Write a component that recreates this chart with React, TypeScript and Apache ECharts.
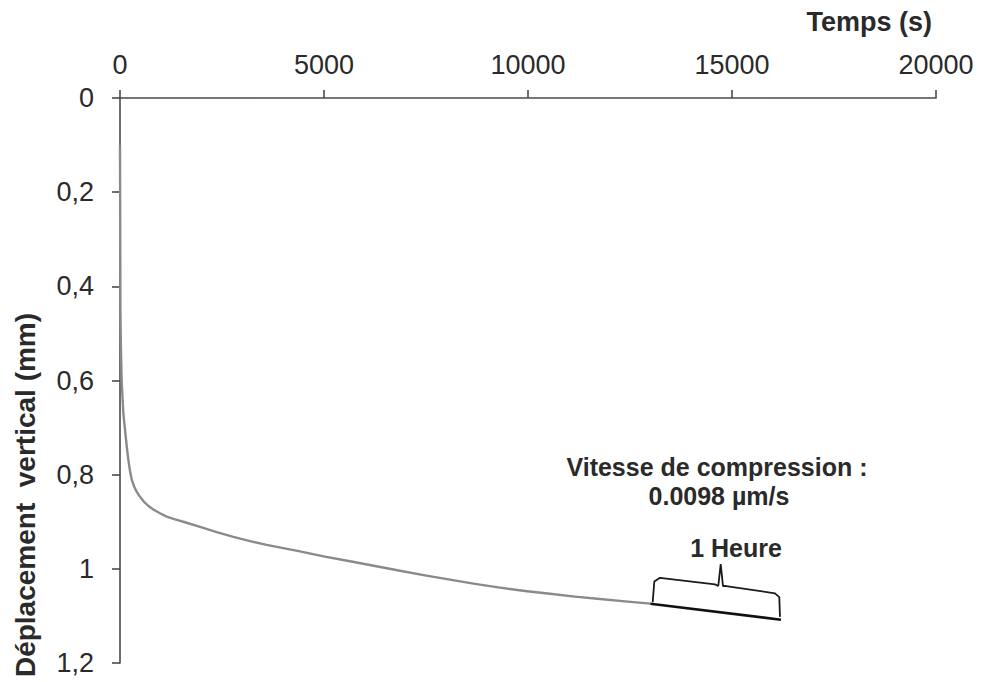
import React, { useEffect, useRef } from 'react';
import * as echarts from 'echarts';

// Axis ticks
const xTicks = [0, 5000, 10000, 15000, 20000];
const yTicks = [0, 0.2, 0.4, 0.6, 0.8, 1, 1.2];

// Measured creep curve (time in s, vertical displacement in mm)
const timeS = [0, 10, 20, 40, 82, 123, 165, 204, 245, 286, 345, 408, 490, 572, 690, 817, 980, 1144, 1350, 1552, 1961, 2370, 2778, 3186, 3595, 4000, 4412, 5020, 5637, 6250, 6863, 7475, 8088, 8700, 9314, 9925, 10539, 11150, 11765, 12380, 13000];
const displacementMm = [0.1, 0.45, 0.52, 0.6, 0.67, 0.705, 0.74, 0.768, 0.792, 0.81, 0.825, 0.836, 0.847, 0.856, 0.866, 0.874, 0.882, 0.889, 0.895, 0.9, 0.911, 0.922, 0.932, 0.941, 0.949, 0.956, 0.963, 0.974, 0.984, 0.994, 1.004, 1.014, 1.023, 1.032, 1.04, 1.047, 1.053, 1.059, 1.064, 1.069, 1.074];

// Last hour linear fit
const fitTimeS = [13000, 16200];
const fitDisplacementMm = [1.074, 1.108];

// Brace annotation over the last hour
const braceTimeS = [13056, 13096, 13235, 14583, 14664, 14723, 14779, 14853, 16054, 16159, 16176];
const braceDisplacementMm = [1.071, 1.027, 1.019, 1.033, 1.0365, 0.99, 1.0365, 1.0365, 1.052, 1.06, 1.102];

const xName = 'Temps (s)';
const yName = 'Déplacement  vertical (mm)';
const annotSpeed = 'Vitesse de compression :';
const annotValue = '0.0098 µm/s';
const annotHour = '1 Heure';

const FONT = '"Liberation Sans", Arial, sans-serif';
const AXIS_COLOR = '#4a4a4a';
const TEXT_COLOR = '#2a2a2a';

export default function App() {
  const ref = useRef<HTMLDivElement>(null);

  useEffect(() => {
    if (!ref.current) return;
    const chart = echarts.init(ref.current, null, { renderer: 'svg' });
    const axisLine = { show: true, lineStyle: { color: AXIS_COLOR, width: 1.6 } };
    const axisTick = { show: true, inside: false, length: 8, lineStyle: { color: AXIS_COLOR, width: 1.6 } };
    chart.setOption({
      animation: false,
      backgroundColor: '#ffffff',
      textStyle: { fontFamily: FONT },
      grid: { left: 120, top: 98, right: 45, bottom: 19, containLabel: false },
      xAxis: {
        type: 'value',
        position: 'top',
        min: xTicks[0],
        max: xTicks[xTicks.length - 1],
        interval: xTicks[1] - xTicks[0],
        axisLine,
        axisTick,
        splitLine: { show: false },
        axisLabel: {
          fontSize: 27,
          color: TEXT_COLOR,
          margin: 20,
          fontFamily: FONT,
          formatter: (v: number) => String(Math.round(v)),
        },
      },
      yAxis: {
        type: 'value',
        inverse: true,
        min: yTicks[0],
        max: yTicks[yTicks.length - 1],
        interval: 0.2,
        axisLine,
        axisTick,
        splitLine: { show: false },
        axisLabel: {
          fontSize: 27,
          color: TEXT_COLOR,
          margin: 26,
          fontFamily: FONT,
          formatter: (v: number) => String(Number(v.toFixed(1))).replace('.', ','),
        },
      },
      series: [
        {
          type: 'line',
          data: timeS.map((t, i) => [t, displacementMm[i]]),
          showSymbol: false,
          smooth: false,
          lineStyle: { color: '#8a8a8a', width: 2.4, join: 'round' },
          z: 2,
        },
        {
          type: 'line',
          data: fitTimeS.map((t, i) => [t, fitDisplacementMm[i]]),
          showSymbol: false,
          lineStyle: { color: '#111111', width: 2.6 },
          z: 3,
        },
        {
          type: 'line',
          data: braceTimeS.map((t, i) => [t, braceDisplacementMm[i]]),
          showSymbol: false,
          lineStyle: { color: '#1a1a1a', width: 1.8 },
          z: 3,
        },
      ],
      graphic: [
        {
          type: 'text',
          right: 49,
          top: 8,
          style: { text: xName, font: `bold 27px ${FONT}`, fill: TEXT_COLOR },
        },
        {
          type: 'text',
          x: 25,
          y: 495,
          rotation: Math.PI / 2,
          style: {
            text: yName,
            font: `bold 28px ${FONT}`,
            fill: TEXT_COLOR,
            align: 'center',
            verticalAlign: 'middle',
          },
        },
        {
          type: 'text',
          x: 717,
          y: 467,
          style: { text: annotSpeed, font: `bold 25px ${FONT}`, fill: TEXT_COLOR, align: 'center', verticalAlign: 'middle' },
        },
        {
          type: 'text',
          x: 719,
          y: 496,
          style: { text: annotValue, font: `bold 25px ${FONT}`, fill: TEXT_COLOR, align: 'center', verticalAlign: 'middle' },
        },
        {
          type: 'text',
          x: 736,
          y: 548,
          style: { text: annotHour, font: `bold 25px ${FONT}`, fill: TEXT_COLOR, align: 'center', verticalAlign: 'middle' },
        },
      ],
    });
    return () => chart.dispose();
  }, []);

  return (
    <div
      ref={ref}
      style={{ position: 'fixed', left: 0, top: 0, width: 981, height: 682, background: '#fff' }}
    />
  );
}
